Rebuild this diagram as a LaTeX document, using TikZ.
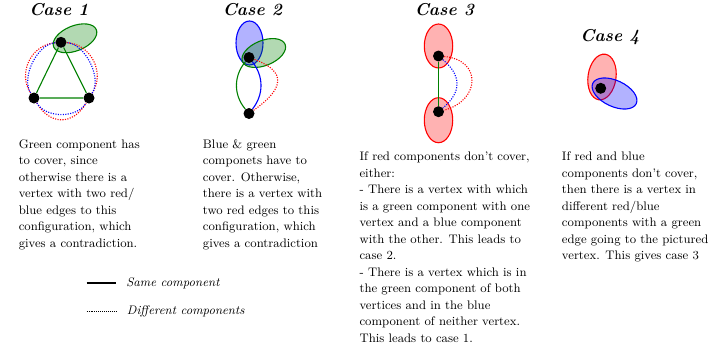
\documentclass[tikz,border=0pt]{standalone}
\usetikzlibrary{positioning}

\tikzset{
  vertex/.style={circle, fill=black, inner sep=0pt, minimum size=8pt},
  casetitle/.style={font=\fontsize{12.5}{15}\selectfont\bfseries\itshape, inner sep=0pt, anchor=base west},
  casetext/.style={align=left, inner sep=0pt, anchor=north west, font=\fontsize{9}{12}\selectfont},
  legendtext/.style={font=\small\itshape, inner sep=0pt, anchor=west},
  samecomp/.style={thick},
  diffcomp/.style={densely dotted, thick},
  greencomp/.style={thick, draw=green!50!black, fill=green!50!black, fill opacity=0.3},
  bluecomp/.style={thick, draw=blue, fill=blue, fill opacity=0.3},
  redcomp/.style={thick, draw=red, fill=red, fill opacity=0.3},
}

\begin{document}
\begin{tikzpicture}[x=0.7273pt, y=0.7273pt]
    % --- page frame (pixel units of the reference) ---
    \useasboundingbox (0,0) rectangle (713,-343);

    % --- titles ---
    \node[casetitle] (title1) at (29,-15) {Case 1};
    \node[casetitle] (title2) at (222.5,-15) {Case 2};
    \node[casetitle] (title3) at (414.5,-15) {Case 3};
    \node[casetitle] (title4) at (580,-41.7) {Case 4};

    % --- Case 1: triangle inside a green component ---
    \draw[greencomp] (75,-38.3) ellipse [x radius=23, y radius=12.5, rotate=22];
    \node[vertex] (c1top) at (61,-42.3) {};
    \node[vertex] (c1left) at (34,-98) {};
    \node[vertex] (c1right) at (89,-98) {};
    % green edges (same component)
    \draw[samecomp, green!50!black] (c1top) -- (c1left) -- (c1right) -- (c1top);
    % red and blue edges (different components)
    \draw[diffcomp, red] (c1top) to[bend right=60, looseness=1.1] (c1left);
    \draw[diffcomp, red] (c1left) to[bend right=60, looseness=1.35] (c1right);
    \draw[diffcomp, red] (c1right) to[bend right=60, looseness=1.1] (c1top);
    \draw[diffcomp, blue] (c1top) to[bend right=60, looseness=0.83] (c1left);
    \draw[diffcomp, blue] (c1left) to[bend right=60, looseness=0.93] (c1right);
    \draw[diffcomp, blue] (c1right) to[bend right=60, looseness=0.83] (c1top);

    % --- Case 2: blue and green components at one vertex ---
    \draw[bluecomp] (249.5,-43) ellipse [x radius=13.5, y radius=22];
    \draw[greencomp] (263.8,-53) ellipse [x radius=23, y radius=12.5, rotate=22];
    \node[vertex] (c2top) at (249,-57.5) {};
    \node[vertex] (c2bot) at (249,-113.5) {};
    \draw[samecomp, green!50!black] (c2top) to[bend right=40] (c2bot);
    \draw[samecomp, blue] (c2top) to[bend left=38] (c2bot);
    \draw[diffcomp, red] (c2top) to[out=-20, in=35, looseness=1.8] (c2bot);

    % --- Case 3: two red components joined by a green edge ---
    \draw[redcomp] (438.5,-46) ellipse [x radius=14.2, y radius=22];
    \draw[redcomp] (438.5,-120.2) ellipse [x radius=14.2, y radius=22.5];
    \node[vertex] (c3top) at (438.5,-56) {};
    \node[vertex] (c3bot) at (438.5,-111.7) {};
    \draw[samecomp, green!50!black] (c3top) -- (c3bot);
    \draw[diffcomp, blue] (c3top) to[bend left=50, looseness=1.3] (c3bot);
    \draw[diffcomp, red] (c3top) to[out=-5, in=15, looseness=1.8] (c3bot);

    % --- Case 4: red and blue components at one vertex ---
    \draw[redcomp] (602,-77) ellipse [x radius=14, y radius=23, rotate=-8];
    \draw[bluecomp] (614.5,-93.5) ellipse [x radius=24, y radius=13, rotate=-25];
    \node[vertex] (c4v) at (600.7,-88.3) {};

    % --- explanations ---
    \node[casetext] (text1) at (18.5,-139.3) {Green component has\\
      to cover, since\\
      otherwise there is a\\
      vertex with two red/\\
      blue edges to this\\
      configuration, which\\
      gives a contradiction.};
    \node[casetext] (text2) at (202.7,-139.3) {Blue \& green\\
      componets have to\\
      cover. Otherwise,\\
      there is a vertex with\\
      two red edges to this\\
      configuration, which\\
      gives a contradiction};
    \node[casetext] (text3) at (359.3,-151.7) {If red components don't cover,\\
      either:\\
      - There is a vertex with which\\
      is a green component with one\\
      vertex and a blue component\\
      with the other. This leads to\\
      case 2.\\
      - There is a vertex which is in\\
      the green component of both\\
      vertices and in the blue\\
      component of neither vertex.\\
      This leads to case 1.};
    \node[casetext] (text4) at (561.7,-151.7) {If red and blue\\
      components don't cover,\\
      then there is a vertex in\\
      different red/blue\\
      components with a green\\
      edge going to the pictured\\
      vertex. This gives case 3};

    % --- legend ---
    \coordinate (samestart) at (86.7,-283);
    \coordinate (diffstart) at (86.7,-311);
    \node[legendtext] (samelabel) at (126,-283) {Same component};
    \node[legendtext] (difflabel) at (126.7,-311) {Different components};
    \draw[samecomp] (samestart) -- ([xshift=-7pt]samelabel.west);
    \draw[densely dotted] (diffstart) -- ([xshift=-7pt]difflabel.west);
\end{tikzpicture}
\end{document}
